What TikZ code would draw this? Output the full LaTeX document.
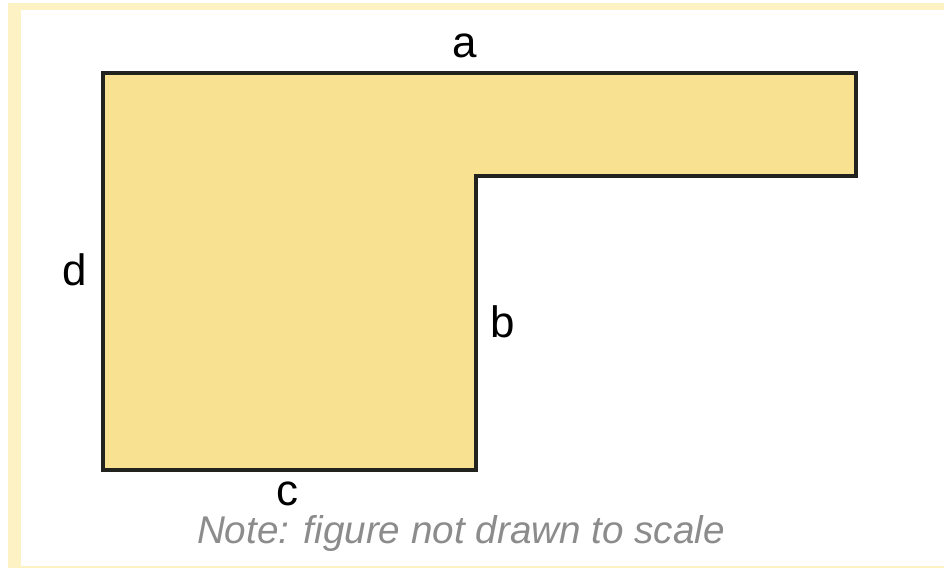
\documentclass[tikz,border=0pt]{standalone}
\usepackage{fontspec}
\setmainfont{Liberation Sans}
\definecolor{lshapeFill}{RGB}{248,226,145}
\definecolor{lshapeLine}{RGB}{34,34,30}
\definecolor{frameBand}{RGB}{253,242,196}
\definecolor{noteGray}{RGB}{140,140,140}
\tikzset{
  lshape/.style={
    draw=lshapeLine,
    line width=2.2pt,
    fill=lshapeFill,
    line join=miter
  },
  sidelabel/.style={
    font=\fontsize{25}{28}\selectfont,
    text=black,
    inner sep=0pt
  },
  notelabel/.style={
    font=\fontsize{22}{25}\selectfont\itshape,
    text=noteGray,
    inner sep=0pt
  }
}
\begin{document}
\begin{tikzpicture}[x=0.02cm,y=-0.02cm]
  \useasboundingbox (0,0) rectangle (944,568);
  % frame
  \fill[frameBand] (8,3) rectangle (944,568);
  \fill[white] (21,10) rectangle (944,566);

  % corners of the shape
  \coordinate (tl) at (103,73);
  \coordinate (tr) at (856,73);
  \coordinate (sr) at (856,176);
  \coordinate (si) at (476,176);
  \coordinate (br) at (476,470);
  \coordinate (bl) at (103,470);

  \draw[lshape] (tl) -- (tr) -- (sr) -- (si) -- (br) -- (bl) -- cycle;

  \node[sidelabel] (a) at (465,46) {a};
  \node[sidelabel] (d) at (75,270) {d};
  \node[sidelabel] (b) at (503,322) {b};
  \node[sidelabel] (c) at (287,494) {c};
  \node[notelabel] (note) at (461,534) {Note: figure not drawn to scale};
\end{tikzpicture}
\end{document}
